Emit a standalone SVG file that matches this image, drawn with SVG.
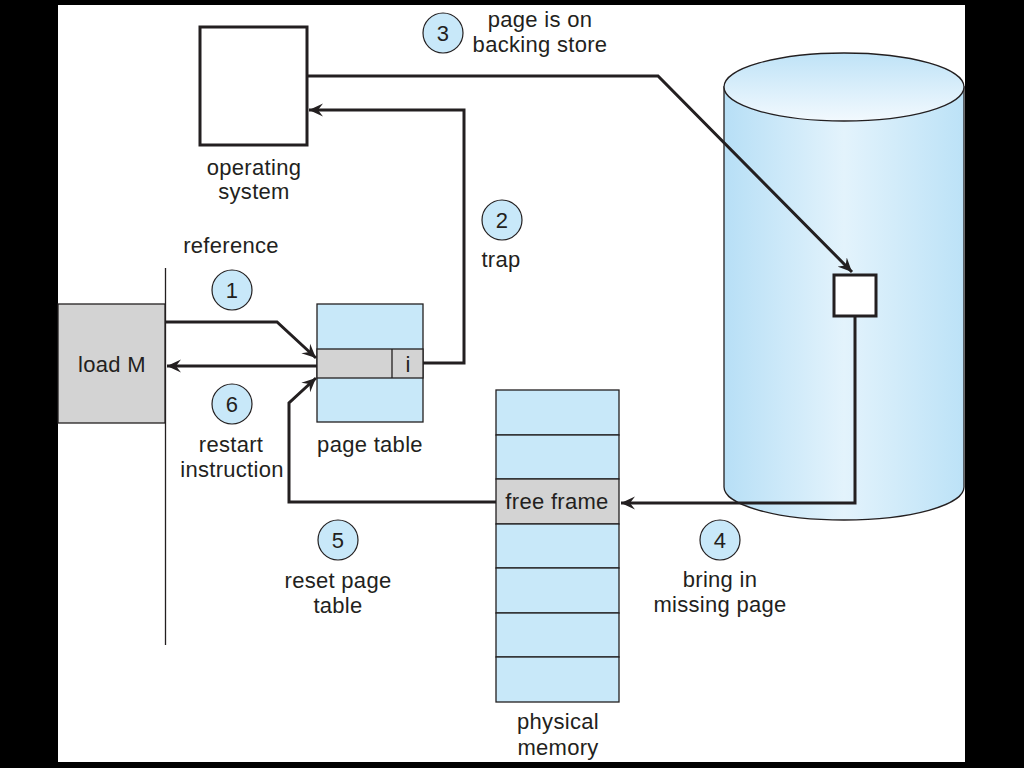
<svg xmlns="http://www.w3.org/2000/svg" width="1024" height="768" viewBox="0 0 1024 768">
<defs>
<linearGradient id="cylBody" x1="0" y1="0" x2="1" y2="0">
<stop offset="0" stop-color="#b7dff6"/>
<stop offset="0.5" stop-color="#e3f3fc"/>
<stop offset="1" stop-color="#bce2f7"/>
</linearGradient>
<linearGradient id="cylTop" x1="0" y1="0" x2="0" y2="1">
<stop offset="0" stop-color="#bfe3f7"/>
<stop offset="1" stop-color="#f2f9fe"/>
</linearGradient>
<marker id="arr" viewBox="-14 -7 15 14" refX="0" refY="0" markerWidth="15" markerHeight="14" markerUnits="userSpaceOnUse" orient="auto">
<path d="M0,0 L-14,-6.5 L-9,0 L-14,6.5 Z" fill="#231f20"/>
</marker>
<style>
text{font-family:"Liberation Sans",Arial,sans-serif;font-size:22px;fill:#231f20;text-anchor:middle;letter-spacing:0.3px}
.num{font-size:22px}
.step{fill:#c8e8f9;stroke:#231f20;stroke-width:1.2}
.cell{fill:#c8e8f9;stroke:#231f20;stroke-width:1.3}
.gray{fill:#d3d3d3;stroke:#231f20;stroke-width:1.3}
.conn{fill:none;stroke:#231f20;stroke-width:3;stroke-linejoin:miter}
.thin{fill:none;stroke:#231f20;stroke-width:1.3}
</style>
</defs>
<rect x="0" y="0" width="1024" height="768" fill="#000"/>
<rect x="58" y="5" width="907" height="757" fill="#fff"/>

<g id="cpu">
<line x1="165.5" y1="268" x2="165.5" y2="645" class="thin"/>
<rect x="58" y="304" width="107" height="119" class="gray"/>
<text x="112" y="372">load M</text>
</g>

<g id="os">
<rect x="200" y="27" width="107" height="118" fill="#fff" stroke="#231f20" stroke-width="3"/>
<text x="254" y="175">operating</text>
<text x="254" y="199">system</text>
</g>

<g id="backing-store">
<path d="M724,87 V487 A120,33 0 0 0 964,487 V87 Z" fill="url(#cylBody)" stroke="#231f20" stroke-width="1.3"/>
<ellipse cx="844" cy="87" rx="120" ry="34" fill="url(#cylTop)" stroke="#231f20" stroke-width="1.3"/>
<rect x="834" y="275" width="42" height="41" fill="#fff" stroke="#231f20" stroke-width="3"/>
</g>

<g id="page-table">
<rect x="317" y="304" width="106" height="118" class="cell"/>
<rect x="317" y="349" width="106" height="29" class="gray"/>
<line x1="392" y1="349" x2="392" y2="378" class="thin"/>
<text x="408" y="372">i</text>
<text x="370" y="452">page table</text>
</g>

<g id="physical-memory">
<rect x="496" y="390" width="123" height="45" class="cell"/>
<rect x="496" y="435" width="123" height="44" class="cell"/>
<rect x="496" y="479" width="123" height="45" class="gray"/>
<rect x="496" y="524" width="123" height="44" class="cell"/>
<rect x="496" y="568" width="123" height="45" class="cell"/>
<rect x="496" y="613" width="123" height="44" class="cell"/>
<rect x="496" y="657" width="123" height="45" class="cell"/>
<text x="557" y="509">free frame</text>
<text x="558" y="729">physical</text>
<text x="558" y="755">memory</text>
</g>

<g id="connectors">
<path class="conn" d="M165,322 H277 L316,358" marker-end="url(#arr)"/>
<path class="conn" d="M423,363 H464 V110 H309" marker-end="url(#arr)"/>
<path class="conn" d="M307,76 H658 L852,272" marker-end="url(#arr)"/>
<path class="conn" d="M855,316 V503 H621" marker-end="url(#arr)"/>
<path class="conn" d="M496,502 H289 V403 L316,378" marker-end="url(#arr)"/>
<path class="conn" d="M317,366 H167" marker-end="url(#arr)"/>
</g>

<g id="step1">
<circle cx="232" cy="290" r="20" class="step"/>
<text x="232" y="298" class="num">1</text>
<text x="231" y="253">reference</text>
</g>
<g id="step2">
<circle cx="502" cy="220" r="20" class="step"/>
<text x="502" y="228" class="num">2</text>
<text x="501" y="267">trap</text>
</g>
<g id="step3">
<circle cx="443" cy="33" r="20" class="step"/>
<text x="443" y="41" class="num">3</text>
<text x="540" y="27">page is on</text>
<text x="540" y="52">backing store</text>
</g>
<g id="step4">
<circle cx="720" cy="540" r="20" class="step"/>
<text x="720" y="548" class="num">4</text>
<text x="720" y="587">bring in</text>
<text x="720" y="612">missing page</text>
</g>
<g id="step5">
<circle cx="338" cy="540" r="20" class="step"/>
<text x="338" y="548" class="num">5</text>
<text x="338" y="588">reset page</text>
<text x="338" y="613">table</text>
</g>
<g id="step6">
<circle cx="232" cy="404" r="20" class="step"/>
<text x="232" y="412" class="num">6</text>
<text x="231" y="452">restart</text>
<text x="232" y="477">instruction</text>
</g>
</svg>
